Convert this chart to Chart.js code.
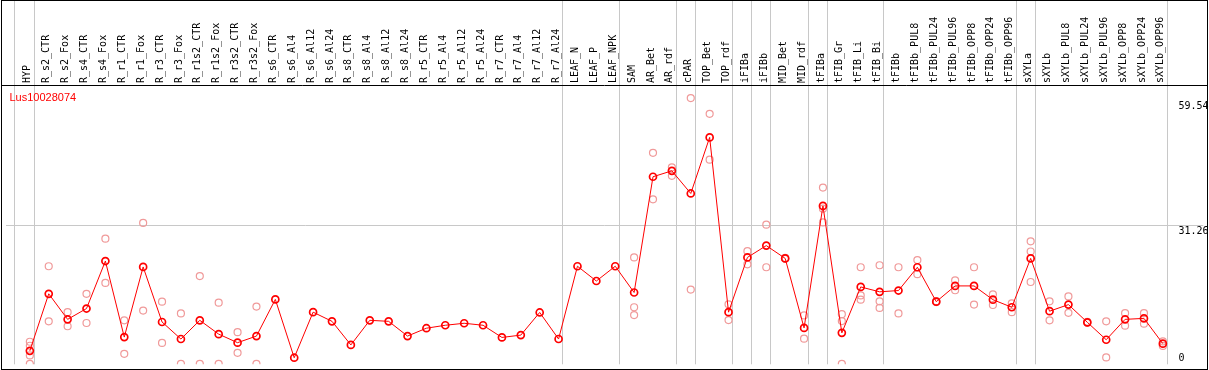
<!DOCTYPE html>
<html><head><meta charset="utf-8">
<script src="https://cdn.jsdelivr.net/npm/chart.js@4"></script>
<style>html,body{margin:0;padding:0;background:#fff;overflow:hidden;}</style>
</head><body>
<canvas id="c" width="1209" height="370" style="display:block;width:1209px;height:370px"></canvas>
<script>
const categories = ['HYP','R_s2_CTR','R_s2_Fox','R_s4_CTR','R_s4_Fox','R_r1_CTR','R_r1_Fox','R_r3_CTR','R_r3_Fox','R_r1s2_CTR','R_r1s2_Fox','R_r3s2_CTR','R_r3s2_Fox','R_s6_CTR','R_s6_Al4','R_s6_Al12','R_s6_Al24','R_s8_CTR','R_s8_Al4','R_s8_Al12','R_s8_Al24','R_r5_CTR','R_r5_Al4','R_r5_Al12','R_r5_Al24','R_r7_CTR','R_r7_Al4','R_r7_Al12','R_r7_Al24','LEAF_N','LEAF_P','LEAF_NPK','SAM','AR_Bet','AR_rdf','cPAR','TOP_Bet','TOP_rdf','iFIBa','iFIBb','MID_Bet','MID_rdf','tFIBa','tFIB_Gr','tFIB_Li','tFIB_Bi','tFIBb','tFIBb_PUL8','tFIBb_PUL24','tFIBb_PUL96','tFIBb_OPP8','tFIBb_OPP24','tFIBb_OPP96','sXYLa','sXYLb','sXYLb_PUL8','sXYLb_PUL24','sXYLb_PUL96','sXYLb_OPP8','sXYLb_OPP24','sXYLb_OPP96'];
const means = [2.94,15.87,10.08,12.53,23.30,6.06,21.96,9.48,5.62,9.86,6.73,4.79,6.29,14.60,1.38,11.71,9.63,4.28,9.86,9.63,6.29,8.07,8.74,9.19,8.74,5.98,6.51,11.64,5.62,22.12,18.77,22.12,16.17,42.41,43.75,38.62,51.33,11.71,24.12,26.80,23.90,8.14,35.79,7.02,17.43,16.32,16.61,21.89,14.09,17.66,17.66,14.54,12.82,23.90,11.93,13.42,9.41,5.46,10.08,10.30,4.57];
const rep1 = [5.0,22.12,11.71,15.87,28.36,9.86,31.93,14.09,11.42,19.89,13.87,7.18,12.98,null,null,null,null,null,null,null,null,null,null,null,null,null,null,null,null,null,null,null,24.12,47.83,44.55,60.25,56.68,13.49,25.53,31.55,24.0,10.97,39.96,11.26,21.89,22.34,21.89,23.52,14.2,18.91,21.89,15.72,13.71,27.76,14.16,15.27,9.5,9.63,11.48,11.48,5.08];
const rep2 = [4.1,9.63,8.52,9.25,18.33,2.27,12.08,4.73,0,0,0,2.50,0,null,null,null,null,null,null,null,null,null,null,null,null,null,null,null,null,null,null,null,12.82,37.28,42.63,16.83,46.27,9.92,22.56,21.89,23.8,5.69,35.18,9.70,15.50,14.16,11.42,20.33,14.0,16.68,13.42,13.33,11.71,25.46,9.86,11.55,9.3,1.45,8.65,9.10,4.06];
const rep3 = [1.9,null,null,null,null,null,null,null,null,null,null,null,null,null,null,null,null,null,null,null,null,null,null,null,null,null,null,null,null,null,null,null,11.04,null,null,null,null,null,null,null,null,null,32.06,0,14.54,12.66,null,null,null,null,null,null,null,18.55,null,null,null,null,null,null,null];
const rep4 = [0,null,null,null,null,null,null,null,null,null,null,null,null,null,null,null,null,null,null,null,null,null,null,null,null,null,null,null,null,null,null,null,null,null,null,null,null,null,null,null,null,null,null,null,null,null,null,null,null,null,null,null,null,null,null,null,null,null,null,null,null];
const yTickValues = [0, 31.26, 59.54];
const yTickLabels = ['0', '31.26', '59.54'];
const separators = [-0.82,0.23,28.23,31.23,34.23,35.23,37.23,38.23,39.23,41.23,42.23,45.23,52.23,53.23,60.23];
const geneTitle = 'Lus10028074';

const toPts = arr => arr.map((v, i) => v === null ? null : {x: i, y: v}).filter(p => p);

const repStyle = {
  type: 'line', showLine: false, pointRadius: 3.5, pointBorderWidth: 1.2,
  pointBorderColor: '#f09a9a', pointBackgroundColor: 'rgba(0,0,0,0)', order: 2, clip: 0
};

const framePlugin = {
  id: 'frame',
  beforeDraw(chart) {
    const c = chart.ctx;
    c.save(); c.fillStyle = '#fff'; c.fillRect(0, 0, chart.width, chart.height); c.restore();
  },
  beforeDatasetsDraw(chart) {
    const c = chart.ctx, xs = chart.scales.x, ca = chart.chartArea;
    c.save();
    c.strokeStyle = '#c8c8c8'; c.lineWidth = 1;
    separators.forEach(s => {
      const px = Math.floor(xs.getPixelForValue(s)) + 0.5;
      c.beginPath(); c.moveTo(px, 0); c.lineTo(px, ca.bottom); c.stroke();
    });
    c.restore();
  },
  afterDraw(chart) {
    const c = chart.ctx, ys = chart.scales.y, ca = chart.chartArea;
    c.save();
    c.strokeStyle = '#000'; c.lineWidth = 1;
    c.strokeRect(1.5, 0.5, 1206, 369);
    c.beginPath(); c.moveTo(1, 85.5); c.lineTo(1208, 85.5); c.stroke();
    c.fillStyle = '#ff0000';
    c.font = '11px "Liberation Sans"';
    c.textBaseline = 'alphabetic'; c.textAlign = 'left';
    c.fillText(geneTitle, 9.5, 100.5);
    c.fillStyle = '#000';
    c.font = '10px "DejaVu Sans Mono"';
    c.textBaseline = 'alphabetic';
    yTickValues.forEach((v, i) => {
      const py = Math.min(ys.getPixelForValue(v) + 8, ca.bottom - 3);
      c.fillText(yTickLabels[i], 1178.5, py);
    });
    c.restore();
  }
};

new Chart(document.getElementById('c'), {
  type: 'line',
  data: {
    datasets: [
      {
        data: toPts(means), borderColor: '#ff0000', borderWidth: 1, tension: 0,
        pointRadius: 3.5, pointBorderWidth: 1.7, pointBorderColor: '#ff0000',
        pointBackgroundColor: 'rgba(0,0,0,0)', order: 0
      },
      Object.assign({data: toPts(rep1)}, repStyle),
      Object.assign({data: toPts(rep2)}, repStyle),
      Object.assign({data: toPts(rep3)}, repStyle),
      Object.assign({data: toPts(rep4)}, repStyle)
    ]
  },
  options: {
    responsive: false, animation: false, devicePixelRatio: 1,
    layout: {padding: {left: 2, right: 2, top: 0, bottom: 1}},
    plugins: {legend: {display: false}, tooltip: {enabled: false}},
    scales: {
      x: {
        type: 'linear', position: 'top', min: -1.279, max: 62.142,
        afterBuildTicks: s => { s.ticks = categories.map((c, i) => ({value: i})); },
        afterFit: s => { s.height = 85; },
        grid: {display: false, drawTicks: false},
        border: {display: false},
        ticks: {
          autoSkip: false, minRotation: 90, maxRotation: 90, padding: 2, labelOffset: 10,
          color: '#000', font: {family: 'DejaVu Sans Mono', size: 10},
          callback: v => categories[v]
        }
      },
      y: {
        type: 'linear', position: 'left', min: -0.111, max: 63.21,
        afterBuildTicks: s => { s.ticks = yTickValues.map(v => ({value: v})); },
        afterFit: s => { s.width = 0; },
        grid: {
          drawTicks: false, lineWidth: 1,
          color: ctx => (ctx.tick && ctx.tick.value === 31.26) ? '#c8c8c8' : 'rgba(0,0,0,0)'
        },
        border: {display: false},
        ticks: {display: false}
      }
    }
  },
  plugins: [framePlugin]
});
</script>
</body></html>
